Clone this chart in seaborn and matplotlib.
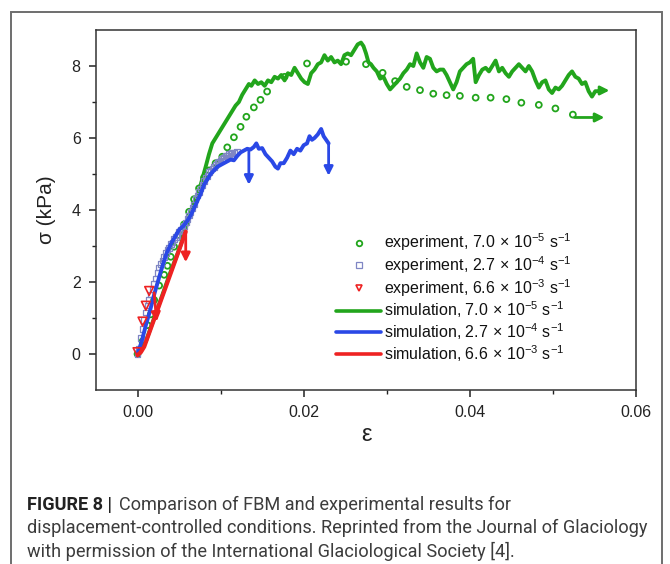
import matplotlib
matplotlib.use("Agg")
import matplotlib.pyplot as plt
import matplotlib.patches as mpatches
import seaborn as sns
import pandas as pd
from matplotlib.lines import Line2D

# ---------------- data ----------------
# simulation, 7.0e-5 /s  (strain, stress kPa)
sim_green = [
    (0.0, 0.0), (0.001, 0.35), (0.002, 1.0), (0.003, 1.65), (0.004, 2.3), (0.005, 2.9),
    (0.0055, 3.25), (0.006, 3.65), (0.0065, 4.0), (0.007, 4.3), (0.0076, 4.7), (0.0082, 5.2),
    (0.0086, 5.55), (0.0090, 5.85), (0.0094, 6.0), (0.0098, 6.15), (0.0102, 6.3), (0.0106, 6.45),
    (0.0110, 6.6), (0.0114, 6.75), (0.0118, 6.9), (0.0122, 7.0), (0.0126, 7.2), (0.0130, 7.35),
    (0.0134, 7.5), (0.0137, 7.45), (0.0141, 7.6), (0.0145, 7.5), (0.0149, 7.55), (0.0153, 7.45),
    (0.0157, 7.6), (0.0161, 7.55), (0.0165, 7.7), (0.0169, 7.65), (0.0173, 7.75), (0.0177, 7.6),
    (0.0181, 7.8), (0.0185, 7.75), (0.0189, 7.95), (0.0193, 7.8), (0.0197, 7.65), (0.0201, 7.55),
    (0.0205, 7.5), (0.0209, 7.8), (0.0213, 7.9), (0.0217, 8.05), (0.0221, 8.1), (0.0225, 8.3),
    (0.0229, 8.15), (0.0233, 8.25), (0.0237, 8.1), (0.0241, 8.15), (0.0245, 8.05), (0.0249, 8.3),
    (0.0253, 8.35), (0.0257, 8.3), (0.0261, 8.45), (0.0265, 8.6), (0.0269, 8.65), (0.0272, 8.55),
    (0.0275, 8.35), (0.0278, 8.1), (0.0281, 8.05), (0.0284, 7.95), (0.0288, 7.85), (0.0292, 7.65),
    (0.0296, 7.7), (0.0300, 7.5), (0.0304, 7.35), (0.0308, 7.45), (0.0312, 7.55), (0.0316, 7.65),
    (0.0320, 7.8), (0.0324, 7.9), (0.0328, 8.05), (0.0332, 8.0), (0.0336, 8.35), (0.0340, 8.1),
    (0.0344, 7.95), (0.0348, 8.25), (0.0352, 8.2), (0.0356, 7.95), (0.0360, 7.85), (0.0364, 7.9),
    (0.0368, 7.9), (0.0372, 7.75), (0.0376, 7.55), (0.0380, 7.35), (0.0384, 7.55), (0.0388, 7.85),
    (0.0392, 7.95), (0.0396, 8.05), (0.0400, 8.1), (0.0404, 8.2), (0.0407, 7.55), (0.0411, 7.75),
    (0.0415, 7.9), (0.0419, 7.95), (0.0423, 7.85), (0.0427, 8.0), (0.0431, 8.15), (0.0435, 7.85),
    (0.0439, 7.95), (0.0443, 7.8), (0.0447, 7.7), (0.0451, 7.85), (0.0455, 7.95), (0.0459, 8.05),
    (0.0463, 7.95), (0.0467, 7.85), (0.0471, 8.0), (0.0475, 7.85), (0.0479, 7.6), (0.0483, 7.4),
    (0.0487, 7.55), (0.0491, 7.6), (0.0495, 7.35), (0.0499, 7.25), (0.0503, 7.4), (0.0507, 7.35),
    (0.0511, 7.45), (0.0515, 7.6), (0.0519, 7.75), (0.0523, 7.85), (0.0527, 7.7), (0.0531, 7.65),
    (0.0535, 7.5), (0.0539, 7.55), (0.0543, 7.3), (0.0547, 7.15), (0.0551, 7.3), (0.0555, 7.3),
]
# simulation, 2.7e-4 /s
sim_blue = [
    (0.0, 0.0), (0.0005, 0.35), (0.001, 0.8), (0.0015, 1.2), (0.002, 1.65), (0.0025, 2.05),
    (0.003, 2.45), (0.0035, 2.8), (0.004, 3.05), (0.0045, 3.25), (0.005, 3.45), (0.0055, 3.55),
    (0.006, 3.7), (0.0064, 3.85), (0.0068, 4.05), (0.0072, 4.25), (0.0076, 4.45), (0.008, 4.7),
    (0.0084, 4.85), (0.0088, 5.0), (0.0092, 5.1), (0.0096, 5.2), (0.0100, 5.25), (0.0104, 5.3),
    (0.0108, 5.35), (0.0112, 5.4), (0.0116, 5.38), (0.0120, 5.5), (0.0124, 5.6), (0.0128, 5.65),
    (0.0132, 5.7), (0.0136, 5.68), (0.0140, 5.75), (0.0143, 5.85), (0.0146, 5.7), (0.0150, 5.72),
    (0.0154, 5.55), (0.0158, 5.45), (0.0162, 5.35), (0.0166, 5.2), (0.0169, 5.15), (0.0172, 5.3),
    (0.0176, 5.3), (0.0180, 5.45), (0.0184, 5.65), (0.0188, 5.55), (0.0192, 5.7), (0.0196, 5.65),
    (0.0200, 5.8), (0.0204, 5.85), (0.0207, 6.05), (0.0210, 5.95), (0.0213, 6.0), (0.0217, 6.1),
    (0.0221, 6.25), (0.0224, 6.05), (0.0227, 5.95), (0.0230, 5.85),
]
# simulation, 6.6e-3 /s
sim_red = [(0.0, -0.03), (0.0004, 0.05), (0.0008, 0.2), (0.0058, 3.4)]

# experiments
exp_green = [
    (0.0, 0.0), (0.0006, 0.35), (0.0012, 0.8), (0.0016, 1.1), (0.0020, 1.5), (0.0026, 1.9),
    (0.0032, 2.2), (0.0036, 2.45), (0.0040, 2.7), (0.0044, 2.98), (0.0050, 3.3), (0.0056, 3.6),
    (0.0062, 3.95), (0.0068, 4.3), (0.0074, 4.6), (0.0080, 4.9), (0.0086, 5.1), (0.0094, 5.3),
    (0.0102, 5.48), (0.0108, 5.74), (0.0116, 6.02), (0.0124, 6.31), (0.0131, 6.59), (0.0140, 6.85),
    (0.0148, 7.06), (0.0156, 7.29), (0.0177, 7.70), (0.0204, 8.07), (0.0251, 8.12), (0.0275, 8.05),
    (0.0295, 7.81), (0.0310, 7.58), (0.0324, 7.42), (0.0340, 7.33), (0.0356, 7.23), (0.0372, 7.19),
    (0.0388, 7.17), (0.0407, 7.12), (0.0425, 7.12), (0.0444, 7.08), (0.0462, 6.98), (0.0483, 6.92),
    (0.0503, 6.82), (0.0524, 6.65),
]
exp_blue = [
    (0.0, 0.0), (0.0002, 0.15), (0.0004, 0.45), (0.0006, 0.7), (0.0008, 0.95), (0.0010, 1.15),
    (0.0012, 1.35), (0.0014, 1.5), (0.0016, 1.65), (0.0018, 1.8), (0.0020, 1.95), (0.0022, 2.1),
    (0.0024, 2.25), (0.0026, 2.4), (0.0028, 2.5), (0.0030, 2.6), (0.0032, 2.7), (0.0034, 2.8),
    (0.0036, 2.9), (0.0038, 2.95), (0.0040, 3.05), (0.0042, 3.1), (0.0044, 3.2), (0.0046, 3.25),
    (0.0048, 3.3), (0.0050, 3.4), (0.0052, 3.45), (0.0054, 3.5), (0.0056, 3.55), (0.0058, 3.65),
    (0.0060, 3.75), (0.0062, 3.85), (0.0064, 3.95), (0.0066, 4.05), (0.0068, 4.15), (0.0070, 4.3),
    (0.0072, 4.4), (0.0074, 4.5), (0.0076, 4.6), (0.0078, 4.7), (0.0080, 4.8), (0.0082, 4.9),
    (0.0084, 4.95), (0.0086, 5.05), (0.0088, 5.1), (0.0090, 5.15), (0.0092, 5.2), (0.0094, 5.25),
    (0.0096, 5.3), (0.0098, 5.35), (0.0100, 5.38), (0.0102, 5.42), (0.0104, 5.45), (0.0106, 5.5),
    (0.0108, 5.52), (0.0110, 5.55), (0.0112, 5.57), (0.0114, 5.58), (0.0116, 5.6), (0.0120, 5.62),
]
exp_red = [(0.0, 0.05), (0.0006, 0.90), (0.0010, 1.34), (0.0014, 1.75)]

# failure arrows: (x0, y0, x1, y1, colour key)
arrows = [
    (0.0555, 7.32, 0.0568, 7.32, "g"),
    (0.0526, 6.57, 0.0562, 6.57, "g"),
    (0.0134, 5.65, 0.0134, 4.70, "b"),
    (0.0230, 5.85, 0.0230, 4.95, "b"),
    (0.0058, 3.40, 0.0058, 2.55, "r"),
    (0.0020, 1.70, 0.0023, 0.90, "r"),
]

legend_labels = [
    r"experiment, 7.0$\,\times\,$10$^{-5}$ s$^{-1}$",
    r"experiment, 2.7$\,\times\,$10$^{-4}$ s$^{-1}$",
    r"experiment, 6.6$\,\times\,$10$^{-3}$ s$^{-1}$",
    r"simulation, 7.0$\,\times\,$10$^{-5}$ s$^{-1}$",
    r"simulation, 2.7$\,\times\,$10$^{-4}$ s$^{-1}$",
    r"simulation, 6.6$\,\times\,$10$^{-3}$ s$^{-1}$",
]
caption_lines = [
    "Comparison of FBM and experimental results for",
    "displacement-controlled conditions. Reprinted from the Journal of Glaciology",
    "with permission of the International Glaciological Society [4].",
]

# ---------------- styling ----------------
sns.set_theme(style="ticks")
plt.rcParams["font.family"] = ["Liberation Sans", "DejaVu Sans"]
plt.rcParams["mathtext.fontset"] = "custom"
plt.rcParams["mathtext.rm"] = "Liberation Sans"
plt.rcParams["mathtext.it"] = "Liberation Sans:italic"

GREEN = "#22a51c"
BLUE = "#2a48e6"
RED = "#ee2222"
SQ = "#7f86c4"
cmap = {"g": GREEN, "b": BLUE, "r": RED}

fig = plt.figure(figsize=(6.70, 5.64), dpi=100)
ax = fig.add_axes([96 / 670, 1 - 390 / 564, 540 / 670, 360 / 564])


def df(pairs):
    return pd.DataFrame(pairs, columns=["strain", "stress"])


sns.scatterplot(data=df(exp_green), x="strain", y="stress", ax=ax, marker="o", s=18,
                facecolor="none", edgecolor=GREEN, linewidth=1.3, zorder=3)
sns.scatterplot(data=df(exp_blue), x="strain", y="stress", ax=ax, marker="s", s=16,
                facecolor="none", edgecolor=SQ, linewidth=0.9, zorder=3)
sns.scatterplot(data=df(exp_red), x="strain", y="stress", ax=ax, marker="v", s=40,
                facecolor="none", edgecolor=RED, linewidth=1.2, zorder=5)

sns.lineplot(data=df(sim_green), x="strain", y="stress", ax=ax, sort=False, estimator=None,
             color=GREEN, linewidth=2.8, zorder=2)
sns.lineplot(data=df(sim_blue), x="strain", y="stress", ax=ax, sort=False, estimator=None,
             color=BLUE, linewidth=2.8, zorder=4)
sns.lineplot(data=df(sim_red), x="strain", y="stress", ax=ax, sort=False, estimator=None,
             color=RED, linewidth=3.0, zorder=4)

for x0, y0, x1, y1, c in arrows:
    ax.annotate("", xy=(x1, y1), xytext=(x0, y0), xycoords="data",
                arrowprops=dict(arrowstyle="-|>", color=cmap[c], lw=2.0,
                                mutation_scale=13, shrinkA=0, shrinkB=0), zorder=6)

ax.set_xlim(-0.005, 0.06)
ax.set_ylim(-1, 9)
ax.set_xticks([0.0, 0.02, 0.04, 0.06])
ax.set_xticklabels(["0.00", "0.02", "0.04", "0.06"])
ax.set_xticks([0.01, 0.03, 0.05], minor=True)
ax.set_yticks([0, 2, 4, 6, 8])
ax.set_yticks([1, 3, 5, 7], minor=True)
ax.tick_params(axis="both", which="major", direction="out", length=5, width=1.1,
               labelsize=11.5, colors="#222222", pad=6)
ax.tick_params(axis="both", which="minor", direction="out", length=3, width=1.0, colors="#222222")
for sp in ax.spines.values():
    sp.set_visible(True)
    sp.set_color("#333333")
    sp.set_linewidth(1.1)

ax.set_xlabel("ε", fontsize=17, color="#222222", labelpad=3)
ax.set_ylabel("σ (kPa)", fontsize=15, color="#222222", labelpad=11)

handles = [
    Line2D([], [], linestyle="none", marker="o", markersize=4, markerfacecolor="none",
           markeredgecolor=GREEN, markeredgewidth=1.3),
    Line2D([], [], linestyle="none", marker="s", markersize=4, markerfacecolor="none",
           markeredgecolor=SQ, markeredgewidth=0.9),
    Line2D([], [], linestyle="none", marker="v", markersize=5, markerfacecolor="none",
           markeredgecolor=RED, markeredgewidth=1.2),
    Line2D([], [], color=GREEN, linewidth=2.6),
    Line2D([], [], color=BLUE, linewidth=2.6),
    Line2D([], [], color=RED, linewidth=2.6),
]
leg = ax.legend(handles, legend_labels, loc="upper left", bbox_to_anchor=(0.43, 0.462),
                frameon=False, fontsize=11.5, handlelength=2.8, handletextpad=0.2,
                labelspacing=0.06, borderpad=0.0)
for t in leg.get_texts():
    t.set_color("#111111")

# outer frame of the figure panel
frame = mpatches.Rectangle((11 / 670, -0.05), 651 / 670, 1.05 - 12 / 564,
                           transform=fig.transFigure, fill=False, edgecolor="#6e6e6e",
                           linewidth=1.4)
fig.patches.append(frame)

# caption
cx = 27 / 670
cap_font = ["Roboto", "DejaVu Sans"]
fig.text(cx, 1 - 505 / 564, "FIGURE 8 |", fontsize=13.1, fontweight="bold",
         family=cap_font, color="#222222", va="center", ha="left")
fig.text(cx + 92 / 670, 1 - 505 / 564, caption_lines[0], fontsize=13.1,
         family=cap_font, color="#3c3c3c", va="center", ha="left")
fig.text(cx, 1 - 528 / 564, caption_lines[1], fontsize=13.1,
         family=cap_font, color="#3c3c3c", va="center", ha="left")
fig.text(cx, 1 - 551 / 564, caption_lines[2], fontsize=13.1,
         family=cap_font, color="#3c3c3c", va="center", ha="left")

fig.savefig("out.png", dpi=100)
